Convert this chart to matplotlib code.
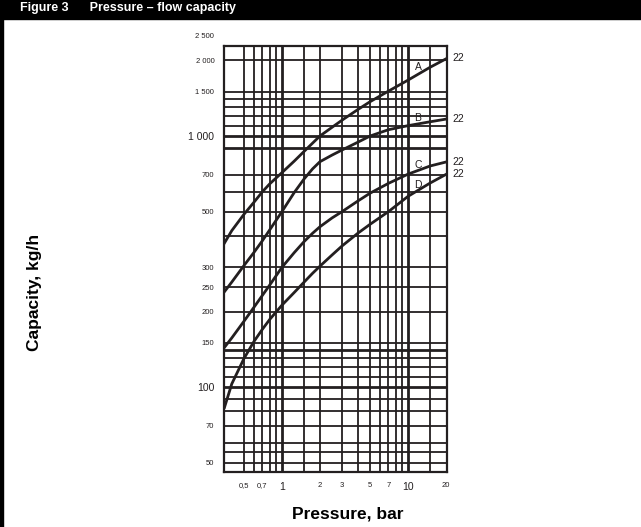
import matplotlib
matplotlib.use('Agg')
import matplotlib.pyplot as plt
from matplotlib.patches import Rectangle
from matplotlib.transforms import blended_transform_factory, offset_copy

# (pressure in bar, capacity in kg/h)
pressure = [0.35, 0.4, 0.5, 0.6, 0.7, 0.8, 1, 1.25, 1.5, 1.75, 2, 2.5, 3, 4, 5, 7, 10, 15, 20.4]
cap_a = [375, 420, 488, 545, 600, 645, 715, 794, 869, 937, 1000, 1084, 1157, 1275, 1370, 1510, 1670, 1880, 2040]
cap_b = [240, 262, 305, 344, 383, 423, 500, 595, 675, 740, 790, 840, 880, 945, 1000, 1060, 1100, 1140, 1170]
cap_c = [144, 157, 183, 208, 232, 255, 300, 343, 380, 410, 435, 472, 500, 551, 592, 648, 705, 760, 790]
cap_d = [83, 103, 130, 152, 170, 186, 212, 238, 262, 284, 303, 336, 365, 410, 445, 500, 575, 650, 707]
curve_names = ['A', 'B', 'C', 'D']
curve_label_y = [1884, 1179, 766, 638]
end_label = '22'

xticks = [0.5, 0.7, 1, 2, 3, 5, 7, 10, 20]
xtick_labels = ['0,5', '0,7', '1', '2', '3', '5', '7', '10', '20']
yticks = [50, 70, 100, 150, 200, 250, 300, 500, 700, 1000, 1500, 2000]
ytick_labels = ['50', '70', '100', '150', '200', '250', '300', '500', '700', '1 000', '1 500', '2 000']
big_ticks = ['1', '10', '100', '1 000']

vgrid = [0.5, 0.6, 0.7, 0.8, 0.9, 1, 1.5, 2, 3, 4, 5, 6, 7, 8, 9, 10, 15]
hgrid = [50, 55, 60, 70, 80, 90, 100, 110, 120, 130, 140, 150, 200, 250, 300, 400,
         500, 600, 700, 900, 1000, 1100, 1200, 1300, 1400, 1500, 2000]

ink = '#231f20'
font = 'Liberation Sans'

fig = plt.figure(figsize=(6.41, 5.27), dpi=100)
fig.patches.append(Rectangle((0, 1 - 19 / 527), 1, 19 / 527, transform=fig.transFigure,
                             color='black', zorder=0))
fig.patches.append(Rectangle((0, 0), 3 / 641, 1, transform=fig.transFigure,
                             color='black', zorder=0))
fig.text(20 / 641, 1 - 2 / 527, 'Figure 3      Pressure \u2013 flow capacity', color='white',
         fontsize=9, fontweight='bold', family=font, va='top', ha='left')

ax = fig.add_axes([224 / 641, 1 - 472 / 527, 223 / 641, 426 / 527])
ax.set_xscale('log')
ax.set_yscale('log')
ax.set_xlim(0.347, 20.4)
ax.set_ylim(45.9, 2284)

for v in vgrid:
    lw = 2.0 if v in (1, 10) else 1.3
    ax.axvline(v, color=ink, lw=lw, zorder=1)
for h in hgrid:
    lw = 2.0 if h in (100, 140, 900, 1000) else 1.3
    ax.axhline(h, color=ink, lw=lw, zorder=1)

for ys in [cap_a, cap_b, cap_c, cap_d]:
    ax.plot(pressure, ys, color=ink, lw=2.0, zorder=3, solid_joinstyle='round')

for name, ly in zip(curve_names, curve_label_y):
    ax.text(12.0, ly, name, fontsize=7.5, color=ink, ha='center', va='center',
            family=font, zorder=4)

trans_end = offset_copy(ax.transData, fig=fig, x=4, y=0, units='points')
for ys in [cap_a, cap_b, cap_c, cap_d]:
    ax.text(pressure[-1], ys[-1], end_label, fontsize=7.5, color=ink, ha='left',
            va='center', family=font, transform=trans_end, clip_on=False)

for s in ax.spines.values():
    s.set_color(ink)
    s.set_linewidth(1.6)

ax.minorticks_off()
ax.set_xticks(xticks)
ax.set_xticklabels(xtick_labels)
ax.set_yticks(yticks)
ax.set_yticklabels(ytick_labels)
ax.tick_params(length=0, pad=7, colors=ink)
for lab in ax.get_xticklabels() + ax.get_yticklabels():
    lab.set_family(font)
    lab.set_fontsize(7.5 if lab.get_text() in big_ticks else 5.5)

# 2 500 sits above the frame
tr = offset_copy(blended_transform_factory(ax.transAxes, ax.transData), fig=fig,
                 x=-7, y=0, units='points')
ax.text(0, 2500, '2 500', fontsize=5.5, family=font, ha='right', va='center',
        color=ink, transform=tr, clip_on=False)

fig.text(348 / 641, 1 - 514 / 527, 'Pressure, bar', fontsize=12.5, fontweight='bold',
         family=font, ha='center', va='center')
fig.text(34 / 641, 1 - 292 / 527, 'Capacity, kg/h', fontsize=12.5, fontweight='bold',
         family=font, ha='center', va='center', rotation=90)

fig.savefig('out.png', dpi=100)
plt.close(fig)
